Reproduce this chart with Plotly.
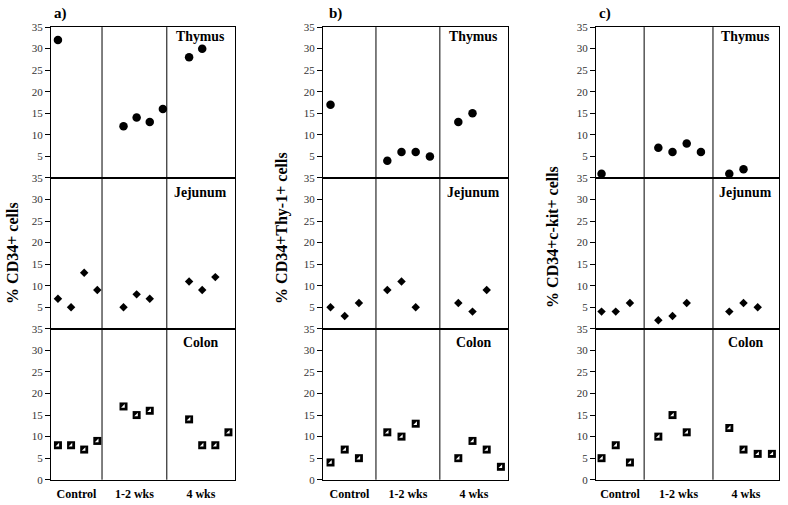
import plotly.graph_objects as go

# ---------------- data ----------------
groups = ["Control", "1-2 wks", "4 wks"]
tissues = ["Thymus", "Jejunum", "Colon"]
panel_letters = ["a)", "b)", "c)"]
y_titles = ["% CD34+ cells", "% CD34+Thy-1+ cells", "% CD34+c-kit+ cells"]
y_ticks = [0, 5, 10, 15, 20, 25, 30, 35]

# panel a: % CD34+ cells  (per group: Control, 1-2 wks, 4 wks)
a_thymus = [[32], [12, 14, 13, 16], [28, 30]]
a_jejunum = [[7, 5, 13, 9], [5, 8, 7], [11, 9, 12]]
a_colon = [[8, 8, 7, 9], [17, 15, 16], [14, 8, 8, 11]]

# panel b: % CD34+Thy-1+ cells
b_thymus = [[17], [4, 6, 6, 5], [13, 15]]
b_jejunum = [[5, 3, 6], [9, 11, 5], [6, 4, 9]]
b_colon = [[4, 7, 5], [11, 10, 13], [5, 9, 7, 3]]

# panel c: % CD34+c-kit+ cells
c_thymus = [[1], [7, 6, 8, 6], [1, 2]]
c_jejunum = [[4, 4, 6], [2, 3, 6], [4, 6, 5]]
c_colon = [[5, 8, 4], [10, 15, 11], [12, 7, 6, 6]]

panels = [
    [a_thymus, a_jejunum, a_colon],
    [b_thymus, b_jejunum, b_colon],
    [c_thymus, c_jejunum, c_colon],
]

# ---------------- layout / style ----------------
W, H = 788, 505
FONT = "Liberation Serif, Times New Roman, serif"
panel_px = [(51, 235), (323, 508), (596, 779)]
row_px = [(27, 178), (178, 329), (329, 480)]
x_ranges = [(-0.53, 13.5), (-0.53, 12.5), (-0.39, 12.5)]
dividers = [(3.36, 8.3), (3.2, 7.7), (3.0, 7.85)]
group_start = [(0, 5, 10), (0, 4, 9), (0, 4, 9)]
label_offset_px = [9, 15, 14]
title_center_px = [(13, 253), (282, 228), (553, 237)]
letter_center_px = [60, 335, 605]
# vertical calibration of the rendered page
OY, SY = 5.9, 0.977


def px2x(p):
    return p / W


def px2y(p):
    return 1 - ((p - OY) / SY) / H


fig = go.Figure()
layout = dict(
    width=W, height=H, autosize=False,
    margin=dict(l=0, r=0, t=0, b=0),
    paper_bgcolor="white", plot_bgcolor="white",
    showlegend=False,
    font=dict(family=FONT, color="black"),
)
shapes = []
annotations = []

for p in range(3):
    xr = x_ranges[p]
    d1, d2 = dividers[p]
    centers = [(xr[0] + d1) / 2, (d1 + d2) / 2, (d2 + xr[1]) / 2]
    for r in range(3):
        idx = p * 3 + r + 1
        xa = "xaxis" if idx == 1 else f"xaxis{idx}"
        ya = "yaxis" if idx == 1 else f"yaxis{idx}"
        xs = "x" if idx == 1 else f"x{idx}"
        ys = "y" if idx == 1 else f"y{idx}"
        layout[xa] = dict(
            domain=[px2x(panel_px[p][0]), px2x(panel_px[p][1])],
            range=list(xr), anchor=ys, showline=True, mirror=True,
            linecolor="black", linewidth=1, showgrid=False, zeroline=False,
            ticks="", fixedrange=True,
            showticklabels=(r == 2),
            tickvals=centers if r == 2 else None,
            ticktext=[f"<b>{g}</b>" for g in groups] if r == 2 else None,
            tickfont=dict(family=FONT, size=12, color="black"),
            ticklabelstandoff=3,
        )
        tv = y_ticks if r == 2 else y_ticks[1:]
        layout[ya] = dict(
            domain=[px2y(row_px[r][1]), px2y(row_px[r][0])],
            range=[0, 35], anchor=xs, showline=True, mirror=True,
            linecolor="black", linewidth=1, showgrid=False, zeroline=False,
            ticks="outside", ticklen=5, tickcolor="black", tickwidth=1,
            tickvals=tv, ticktext=[str(v) for v in tv],
            tickfont=dict(family=FONT, size=11, color="#333333"),
            fixedrange=True,
        )

        data = panels[p][r]
        for g in range(3):
            vals = data[g]
            xvals = [group_start[p][g] + k for k in range(len(vals))]
            if r == 0:
                fig.add_trace(go.Scatter(
                    x=xvals, y=vals, mode="markers", xaxis=xs, yaxis=ys,
                    cliponaxis=False,
                    marker=dict(symbol="circle", size=8.5, color="black")))
            elif r == 1:
                fig.add_trace(go.Scatter(
                    x=xvals, y=vals, mode="markers", xaxis=xs, yaxis=ys,
                    cliponaxis=False,
                    marker=dict(symbol="diamond", size=6.5, color="black")))
            else:
                fig.add_trace(go.Scatter(
                    x=xvals, y=vals, mode="markers", xaxis=xs, yaxis=ys,
                    cliponaxis=False,
                    marker=dict(symbol="square", size=8, color="black")))
                fig.add_trace(go.Scatter(
                    x=xvals, y=vals, mode="markers", xaxis=xs, yaxis=ys,
                    cliponaxis=False,
                    marker=dict(symbol="triangle-se", size=4, color="white",
                                line=dict(width=0))))

        # tissue label
        annotations.append(dict(
            xref=xs, yref="paper", x=centers[2],
            y=px2y(row_px[r][0] + label_offset_px[r]),
            text=f"<b>{tissues[r]}</b>", showarrow=False,
            xanchor="center", yanchor="middle",
            font=dict(family=FONT, size=13.8, color="black")))

    # dividers spanning all rows
    first_x = "x" if p == 0 else f"x{p * 3 + 1}"
    for dv in dividers[p]:
        shapes.append(dict(
            type="line", xref=first_x, yref="paper", x0=dv, x1=dv,
            y0=px2y(row_px[2][1]), y1=px2y(row_px[0][0]),
            line=dict(color="black", width=1)))

    # panel letter
    annotations.append(dict(
        xref="paper", yref="paper", x=px2x(letter_center_px[p]), y=px2y(13),
        text=f"<b>{panel_letters[p]}</b>", showarrow=False,
        xanchor="center", yanchor="middle",
        font=dict(family=FONT, size=15, color="black")))

    # y title
    tx, ty = title_center_px[p]
    annotations.append(dict(
        xref="paper", yref="paper", x=px2x(tx), y=px2y(ty),
        text=f"<b>{y_titles[p]}</b>", showarrow=False, textangle=-90,
        xanchor="center", yanchor="middle",
        font=dict(family=FONT, size=16, color="black")))

layout["shapes"] = shapes
layout["annotations"] = annotations
fig.update_layout(**layout)

page_fix = (
    "document.documentElement.style.margin='0';"
    "document.documentElement.style.padding='0';"
    "document.documentElement.style.overflow='hidden';"
    "document.body.style.margin='0';"
    "document.body.style.padding='0';"
    "document.body.style.overflow='hidden';"
    "var gd=document.getElementById('{plot_id}');"
    "var pe=gd.parentElement;"
    "pe.style.position='fixed';pe.style.left='0px';pe.style.top='0px';"
)
fig.write_html(
    "out.html",
    config={"displayModeBar": False},
    post_script=page_fix,
)
